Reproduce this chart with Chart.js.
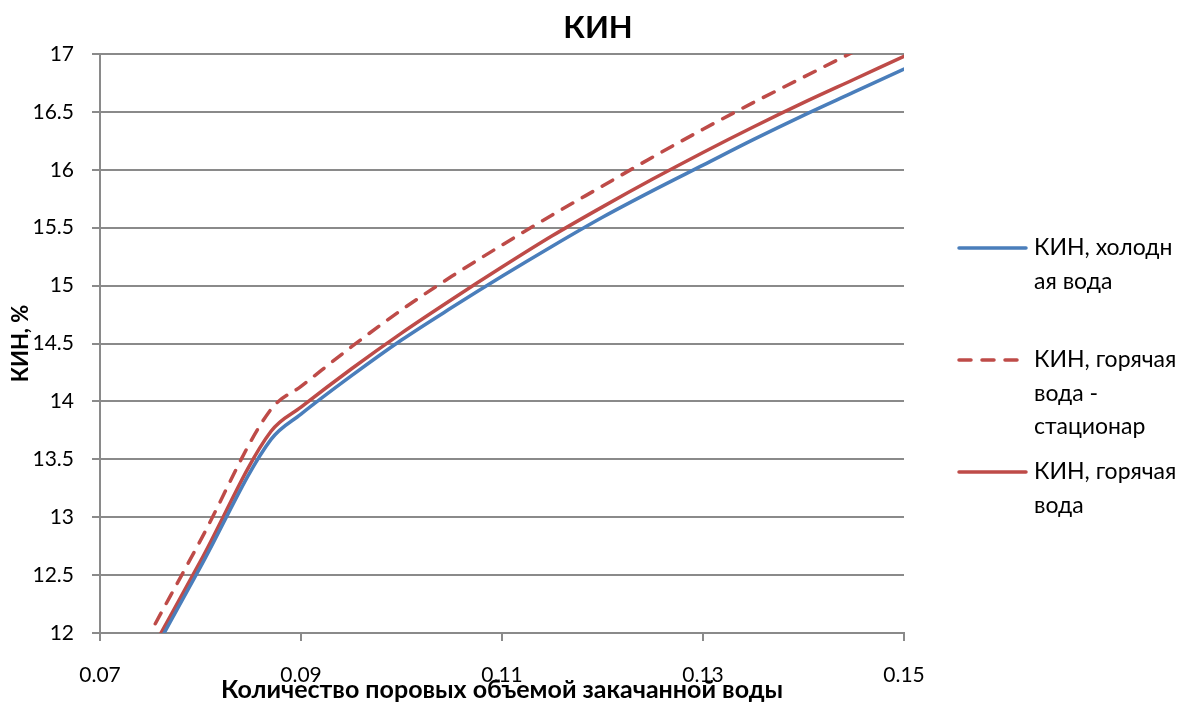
<!DOCTYPE html>
<html>
<head>
<meta charset="utf-8">
<script src="https://cdn.jsdelivr.net/npm/chart.js@4/dist/chart.umd.min.js"></script>
<style>
  html, body { margin: 0; padding: 0; background: #fff; }
  #wrap { width: 1184px; height: 705px; }
</style>
</head>
<body>
<div id="wrap"><canvas id="c" width="1184" height="705"></canvas></div>
<script>
// Pore volumes of injected water
const poreVolumes = [0.0755, 0.08, 0.087, 0.09, 0.095, 0.10, 0.105, 0.11, 0.115, 0.12, 0.125, 0.13, 0.135, 0.14, 0.145, 0.15];

// Oil recovery factor, %
const coldWater      = [11.86, 12.57, 13.67, 13.89, 14.22, 14.53, 14.81, 15.08, 15.34, 15.59, 15.82, 16.04, 16.26, 16.47, 16.67, 16.87];
const hotWaterSteady = [12.08, 12.80, 13.93, 14.13, 14.47, 14.79, 15.08, 15.35, 15.61, 15.86, 16.11, 16.35, 16.58, 16.80, 17.02, 17.24];
const hotWater       = [11.91, 12.62, 13.74, 13.95, 14.28, 14.59, 14.88, 15.16, 15.43, 15.68, 15.92, 16.15, 16.37, 16.58, 16.78, 16.98];

const seriesNames = ['КИН, холодная вода', 'КИН, горячая вода - стационар', 'КИН, горячая вода'];
const legendLines = [['КИН, холодн', 'ая вода'], ['КИН, горячая', 'вода -', 'стационар'], ['КИН, горячая', 'вода']];

const xTicks = [0.07, 0.09, 0.11, 0.13, 0.15];
const yTicks = [12, 12.5, 13, 13.5, 14, 14.5, 15, 15.5, 16, 16.5, 17];

const chartTitle = 'КИН';
const xTitle = 'Количество поровых объемой закачанной воды';
const yTitle = 'КИН, %';

const FONT = 'Lato, "Open Sans", "Noto Sans", sans-serif';
const GRID = '#8a8a8a';
const BLUE = '#4a7ebb';
const RED = '#be4b48';

const toPoints = ys => poreVolumes.map((x, i) => ({ x, y: ys[i] }));

// Title and wrapped legend drawn on the canvas
const decorations = {
  id: 'decorations',
  afterDraw(chart) {
    const ctx = chart.ctx;
    ctx.save();
    ctx.fillStyle = '#000';
    ctx.font = 'bold 31px ' + FONT;
    ctx.textAlign = 'center';
    ctx.textBaseline = 'middle';
    ctx.fillText(chartTitle, 598, 28);

    ctx.font = '23px ' + FONT;
    ctx.textAlign = 'left';
    chart.data.datasets.forEach((ds, i) => {
      const y0 = 248 + i * 112;
      ctx.beginPath();
      ctx.strokeStyle = ds.borderColor;
      ctx.lineWidth = ds.borderWidth;
      ctx.lineCap = 'round';
      ctx.setLineDash(ds.borderDash || []);
      ctx.moveTo(959, y0);
      ctx.lineTo(1026, y0);
      ctx.stroke();
      ctx.setLineDash([]);
      legendLines[i].forEach((t, k) => ctx.fillText(t, 1034, y0 + k * 33.5));
    });
    ctx.restore();
  }
};

new Chart(document.getElementById('c'), {
  type: 'line',
  data: {
    datasets: [
      { label: seriesNames[0], data: toPoints(coldWater), borderColor: BLUE, borderWidth: 3.5, pointRadius: 0, cubicInterpolationMode: 'monotone', borderCapStyle: 'round' },
      { label: seriesNames[1], data: toPoints(hotWaterSteady), borderColor: RED, borderWidth: 3.5, borderDash: [12, 11], pointRadius: 0, cubicInterpolationMode: 'monotone', borderCapStyle: 'round' },
      { label: seriesNames[2], data: toPoints(hotWater), borderColor: RED, borderWidth: 3.5, pointRadius: 0, cubicInterpolationMode: 'monotone', borderCapStyle: 'round' }
    ]
  },
  options: {
    responsive: false,
    animation: false,
    events: [],
    layout: { padding: { top: 54, right: 280, left: 0, bottom: 0 } },
    plugins: { legend: { display: false }, title: { display: false }, tooltip: { enabled: false } },
    scales: {
      x: {
        type: 'linear',
        min: 0.07, max: 0.15,
        afterBuildTicks(scale) { scale.ticks = xTicks.map(v => ({ value: v })); },
        afterFit(scale) { scale.height = 72; },
        ticks: {
          font: { family: FONT, size: 21 },
          color: '#000',
          padding: 22,
          maxRotation: 0,
          callback: v => v.toFixed(2)
        },
        grid: { drawOnChartArea: false, drawTicks: true, tickLength: 8, color: GRID, lineWidth: 2 },
        border: { color: GRID, width: 2 },
        title: {
          display: true, text: xTitle, color: '#000',
          font: { family: FONT, size: 25, weight: 'bold' },
          padding: { top: -14, bottom: 0 }
        }
      },
      y: {
        type: 'linear',
        min: 12, max: 17,
        afterBuildTicks(scale) { scale.ticks = yTicks.map(v => ({ value: v })); },
        afterFit(scale) { scale.width = 100; },
        ticks: {
          font: { family: FONT, size: 21 },
          color: '#000',
          padding: 18,
          callback: v => String(v)
        },
        grid: { drawTicks: true, tickLength: 8, color: GRID, lineWidth: 2 },
        border: { color: GRID, width: 2 },
        title: {
          display: true, text: yTitle, color: '#000',
          font: { family: FONT, size: 22, weight: 'bold' },
          padding: { top: 8, bottom: 0 }
        }
      }
    }
  },
  plugins: [decorations]
});
</script>
</body>
</html>
